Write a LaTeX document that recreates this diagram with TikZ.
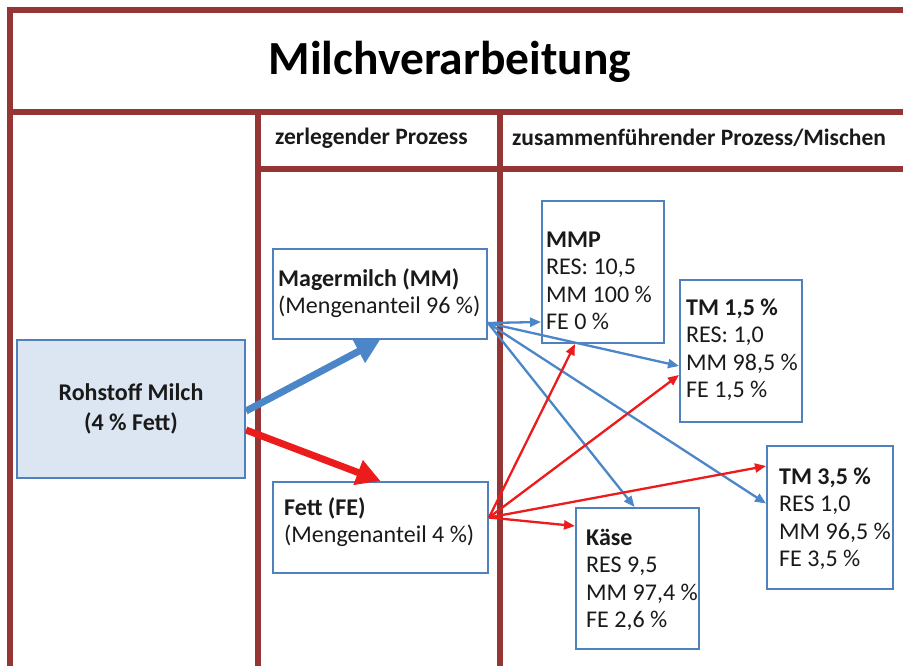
\documentclass[tikz,border=0pt]{standalone}
\usepackage{fontspec}
\setmainfont{Carlito}
\usetikzlibrary{arrows.meta}
\definecolor{framered}{HTML}{963634}
\definecolor{boxline}{HTML}{4F81BD}
\definecolor{boxfill}{HTML}{DCE6F2}
\definecolor{arrblue}{HTML}{4A86C8}
\definecolor{arrred}{HTML}{EC1C1C}
\definecolor{txt}{HTML}{1A1A1A}
\tikzset{
  frameline/.style={draw=framered, line width=5.5pt},
  box/.style={draw=boxline, line width=2pt, fill=white, inner sep=0pt},
  boxtext/.style={anchor=west, inner sep=0pt, align=left, text=txt,
    font=\fontsize{24}{27.5}\selectfont},
  headtext/.style={anchor=west, inner sep=0pt, text=txt,
    font=\fontsize{23.5}{28}\selectfont\bfseries},
  thickblue/.style={draw=arrblue, line width=7pt, -{Triangle[length=24pt,width=25pt]}},
  thickred/.style={draw=arrred, line width=7pt, -{Triangle[length=24pt,width=25pt]}},
  thinblue/.style={draw=arrblue, line width=2.3pt, -{Triangle[length=11pt,width=9pt]}},
  thinred/.style={draw=arrred, line width=2.3pt, -{Triangle[length=11pt,width=9pt]}}
}
\begin{document}
\begin{tikzpicture}[x=1pt,y=-1pt]
\useasboundingbox (0,0) rectangle (903,666);
\fill[white] (0,0) rectangle (903,666);

% frame
\draw[frameline] (903,10) -- (10,10) -- (10,666);
\draw[frameline] (10,112) -- (903,112);
\draw[frameline] (258,112) -- (258,666);
\draw[frameline] (500,112) -- (500,666);
\draw[frameline] (258,169) -- (903,169);

% title and headers
\node[inner sep=0pt, text=black, font=\fontsize{47.5}{56}\selectfont\bfseries] (title) at (450,62) {Milchverarbeitung};
\node[headtext] (h1) at (275,138) {zerlegender Prozess};
\node[headtext] (h2) at (512,138) {zusammenführender Prozess/Mischen};

% boxes
\node[box, fill=boxfill, minimum width=228pt, minimum height=138pt, align=center,
      text=txt, font=\fontsize{24}{29.5}\selectfont\bfseries] (roh) at (131,409)
      {Rohstoff Milch\\(4 \% Fett)};
\node[box, minimum width=214pt, minimum height=90pt] (mm) at (380,294) {};
\node[box, minimum width=215pt, minimum height=91pt] (fe) at (380.5,527.5) {};
\node[box, minimum width=122pt, minimum height=142pt] (mmp) at (603,272) {};
\node[box, minimum width=122pt, minimum height=142pt] (tma) at (741,351) {};
\node[box, minimum width=126pt, minimum height=143pt] (tmb) at (830,517.5) {};
\node[box, minimum width=123pt, minimum height=141pt] (kase) at (637.5,578.5) {};

% box texts
\node[boxtext] (mmt) at (278,293) {\textbf{Magermilch (MM)}\\(Mengenanteil 96 \%)};
\node[boxtext] (fet) at (284,522) {\textbf{Fett (FE)}\\(Mengenanteil 4 \%)};
\node[boxtext] (mmpt) at (546,281) {\textbf{MMP}\\RES: 10,5\\MM 100 \%\\FE 0 \%};
\node[boxtext] (tmat) at (686,350) {\textbf{TM 1,5 \%}\\RES: 1,0\\MM 98,5 \%\\FE 1,5 \%};
\node[boxtext] (tmbt) at (779,519) {\textbf{TM 3,5 \%}\\RES 1,0\\MM 96,5 \%\\FE 3,5 \%};
\node[boxtext] (kaset) at (586,580) {\textbf{Käse}\\RES 9,5\\MM 97,4 \%\\FE 2,6 \%};

% thick arrows
\draw[thickblue] ([yshift=-2pt]roh.east) -- (mm.south);
\draw[thickred] ([yshift=-21pt]roh.east) -- (fe.north);

% thin arrows from Magermilch
\draw[thinblue] ([yshift=-29pt]mm.east) -- ([yshift=-50pt]mmp.west);
\draw[thinblue] ([yshift=-29pt]mm.east) -- ([yshift=-15pt]tma.west);
\draw[thinblue] ([yshift=-29pt]mm.east) -- ([xshift=-3pt]kase.north);
\draw[thinblue] ([yshift=-29pt]mm.east) -- ([yshift=14pt]tmb.west);

% thin arrows from Fett
\draw[thinred] ([yshift=10pt]fe.east) -- ([xshift=-28pt]mmp.south);
\draw[thinred] ([yshift=10pt]fe.east) -- ([yshift=-24pt]tma.west);
\draw[thinred] ([yshift=10pt]fe.east) -- ([yshift=51.5pt]tmb.west);
\draw[thinred] ([yshift=10pt]fe.east) -- ([yshift=52.5pt]kase.west);
\end{tikzpicture}
\end{document}
